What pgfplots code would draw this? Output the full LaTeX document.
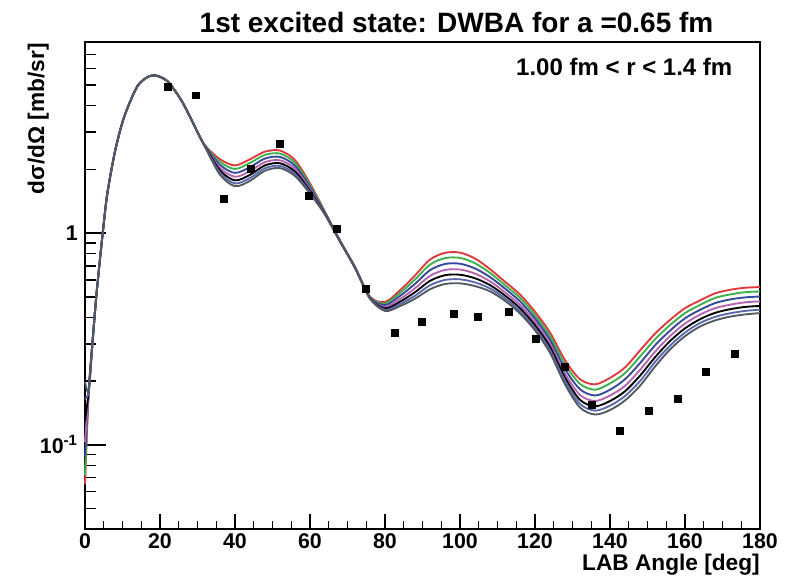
\documentclass[border=0pt]{standalone}
\usepackage{fontspec}
\setmainfont{Liberation Sans}
\usepackage{pgfplots}
\usepackage{pgfplotstable}
\pgfplotsset{compat=1.18}
\definecolor{cR}{HTML}{E0393B}
\definecolor{cG}{HTML}{3CB04A}
\definecolor{cB}{HTML}{34489C}
\definecolor{cM}{HTML}{B563B0}
\definecolor{cK}{HTML}{000000}
\definecolor{cS}{HTML}{5C68AD}
\definecolor{cD}{HTML}{505A60}

\pgfplotstableread{
x r g b m k s d
0 0.065 0.072 0.088 0.103 0.130 0.165 0.198
1 0.180 0.180 0.180 0.180 0.180 0.180 0.180
2 0.305 0.305 0.305 0.305 0.305 0.305 0.305
3 0.500 0.500 0.500 0.500 0.500 0.500 0.500
4 0.755 0.755 0.755 0.755 0.755 0.755 0.755
5 1.11 1.11 1.11 1.11 1.11 1.11 1.11
6 1.56 1.56 1.56 1.56 1.56 1.56 1.56
8 2.43 2.43 2.43 2.43 2.43 2.43 2.43
10 3.35 3.35 3.35 3.35 3.35 3.35 3.35
12 4.17 4.17 4.17 4.17 4.17 4.17 4.17
14 4.95 4.95 4.95 4.95 4.95 4.95 4.95
16 5.37 5.37 5.37 5.37 5.37 5.37 5.37
18 5.57 5.57 5.57 5.57 5.57 5.57 5.57
20 5.48 5.48 5.48 5.48 5.48 5.48 5.48
22 5.22 5.22 5.22 5.22 5.22 5.22 5.22
24 4.71 4.71 4.71 4.71 4.71 4.71 4.71
26 4.15 4.15 4.15 4.15 4.15 4.15 4.15
28 3.55 3.55 3.55 3.55 3.55 3.55 3.55
30 3.00 3.00 3.00 3.00 3.00 3.00 3.00
32 2.60 2.59 2.58 2.57 2.57 2.56 2.56
36 2.234 2.171 2.102 2.036 1.979 1.930 1.888
40 2.089 2.010 1.926 1.846 1.776 1.717 1.667
44 2.234 2.147 2.052 1.963 1.886 1.821 1.766
48 2.427 2.343 2.252 2.165 2.090 2.026 1.972
52 2.455 2.376 2.291 2.210 2.139 2.078 2.028
56 2.213 2.149 2.080 2.013 1.954 1.904 1.862
60 1.718 1.686 1.650 1.614 1.584 1.558 1.535
64 1.259 1.253 1.245 1.238 1.232 1.226 1.222
68 0.923 0.921 0.919 0.917 0.915 0.913 0.912
72 0.692 0.691 0.689 0.688 0.686 0.685 0.684
76 0.501 0.499 0.497 0.495 0.493 0.491 0.490
80 0.473 0.465 0.457 0.448 0.441 0.434 0.429
84 0.537 0.522 0.505 0.488 0.474 0.462 0.452
88 0.631 0.604 0.576 0.549 0.526 0.506 0.490
92 0.750 0.710 0.668 0.628 0.595 0.567 0.543
96 0.807 0.762 0.715 0.670 0.633 0.601 0.575
100 0.809 0.764 0.717 0.673 0.636 0.605 0.579
104 0.759 0.721 0.681 0.644 0.612 0.585 0.562
108 0.676 0.649 0.620 0.592 0.568 0.548 0.531
112 0.589 0.568 0.547 0.525 0.507 0.492 0.479
116 0.513 0.495 0.476 0.458 0.442 0.428 0.417
120 0.425 0.410 0.395 0.380 0.367 0.356 0.347
124 0.339 0.326 0.313 0.300 0.290 0.280 0.272
128 0.251 0.240 0.228 0.217 0.208 0.200 0.193
132 0.204 0.194 0.183 0.172 0.163 0.156 0.150
136 0.193 0.182 0.171 0.161 0.152 0.145 0.139
140 0.207 0.195 0.182 0.171 0.161 0.153 0.146
144 0.232 0.218 0.204 0.190 0.179 0.170 0.162
148 0.279 0.261 0.243 0.226 0.212 0.200 0.190
152 0.335 0.315 0.295 0.275 0.259 0.246 0.234
156 0.389 0.368 0.346 0.326 0.309 0.294 0.282
160 0.442 0.419 0.396 0.374 0.355 0.339 0.326
164 0.481 0.458 0.434 0.412 0.392 0.376 0.362
168 0.519 0.494 0.467 0.442 0.420 0.402 0.387
172 0.540 0.513 0.486 0.459 0.437 0.418 0.403
176 0.552 0.526 0.497 0.471 0.448 0.429 0.413
180 0.556 0.530 0.502 0.476 0.453 0.435 0.419
}\curves

\pgfplotstableread{
x y
22.0 4.90
29.5 4.48
37.0 1.46
44.3 2.01
51.9 2.64
59.6 1.50
67.1 1.05
74.8 0.544
82.7 0.337
89.7 0.382
98.3 0.418
104.7 0.403
112.9 0.423
120.3 0.316
127.9 0.234
135.2 0.155
142.6 0.117
150.3 0.145
158.1 0.165
165.6 0.221
173.3 0.268
}\datapts

\begin{document}
\begin{tikzpicture}
\path[use as bounding box] (-63.75pt,-37.5pt) rectangle (528pt,396.75pt);
\begin{axis}[
  at={(0pt,0pt)}, anchor=south west,
  scale only axis, width=506.25pt, height=365.25pt,
  xmin=0, xmax=180, ymode=log, ymin=0.04, ymax=8,
  clip=false,
  xtick={0,20,...,180}, minor x tick num=3,
  ytick={0.1,1}, yticklabels={10\textsuperscript{-1},1},
  minor ytick={0.05,0.06,0.07,0.08,0.09,0.2,0.3,0.4,0.5,0.6,0.7,0.8,0.9,2,3,4,5,6,7,8},
  tick pos=left, tick align=inside,
  axis line style={line width=1.5pt},
  xtick style={line width=1.1pt, black, /pgfplots/major tick length=11.25pt, /pgfplots/minor tick length=6pt},
  ytick style={line width=1.1pt, black, /pgfplots/major tick length=15.75pt, /pgfplots/minor tick length=8.25pt},
  /pgf/number format/assume math mode=true,
  ticklabel style={font=\fontsize{16}{16}\selectfont\bfseries},
  yticklabel style={xshift=-2pt},
]
\addplot[only marks, mark=square*, mark size=2.6pt, black] table[x=x,y=y]{\datapts};
\addplot[cR, line width=1.4pt, smooth] table[x=x,y=r]{\curves};
\addplot[cG, line width=1.4pt, smooth] table[x=x,y=g]{\curves};
\addplot[cB, line width=1.4pt, smooth] table[x=x,y=b]{\curves};
\addplot[cM, line width=1.4pt, smooth] table[x=x,y=m]{\curves};
\addplot[cK, line width=1.4pt, smooth] table[x=x,y=k]{\curves};
\addplot[cS, line width=1.4pt, smooth] table[x=x,y=s]{\curves};
\addplot[cD, line width=1.4pt, smooth] table[x=x,y=d]{\curves};
\node[anchor=base east, font=\fontsize{21}{21}\selectfont\bfseries] at (axis description cs:0.938,1.0205) {1st excited state: DWBA for a =0.65 fm};
\node[anchor=base east, font=\fontsize{18}{18}\selectfont\bfseries] at (axis description cs:0.966,0.932) {1.00 fm < r < 1.4 fm};
\node[anchor=base east, font=\fontsize{17}{17}\selectfont\bfseries, inner sep=0pt] at (axis description cs:1,-0.0862) {LAB Angle [deg]};
\node[anchor=base east, rotate=90, font=\fontsize{17}{17}\selectfont\bfseries, inner sep=0pt] at (axis description cs:-0.0607,0.998) {dσ/dΩ [mb/sr]};
\end{axis}
\end{tikzpicture}
\end{document}
